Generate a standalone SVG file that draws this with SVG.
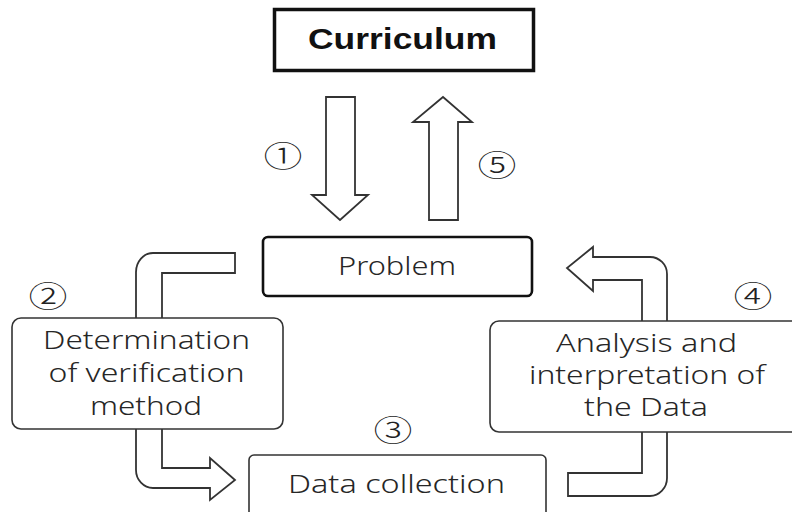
<svg xmlns="http://www.w3.org/2000/svg" width="792" height="512" viewBox="0 0 792 512">
  <style>
    .box { fill: #fff; stroke: #333; stroke-width: 1.6; }
    .arrow { fill: #fff; stroke: #333; stroke-width: 1.8; stroke-linejoin: miter; }
    .label { font-family: "Noto Sans", "Liberation Sans", sans-serif; font-size: 25px; font-weight: 350; fill: #262626; text-anchor: middle; }
    .title { font-family: "Liberation Sans", Arial, sans-serif; font-weight: bold; font-size: 29px; fill: #111; text-anchor: middle; }
    .step { font-family: "Noto Sans CJK JP", "Noto Sans", sans-serif; font-size: 30px; font-weight: 300; fill: #222; text-anchor: middle; }
  </style>
  <rect width="792" height="512" fill="#fff"/>

  <!-- connectors -->
  <g id="connectors">
    <!-- 1: curriculum to problem -->
    <polygon class="arrow" points="326,97 355,97 355,195 368,195 340,220 312,195 326,195"/>
    <!-- 5: problem back to curriculum -->
    <polygon class="arrow" points="443,97 472,122 458,122 458,220 429,220 429,122 413,122"/>
    <!-- 2: problem to verification method -->
    <path class="arrow" d="M136,318 V272 A17,19 0 0 1 153,253 H235 V273 H162 V318"/>
    <!-- verification method to data collection -->
    <path class="arrow" d="M136,429 V470 A17,18 0 0 0 153,488 H210 V500 L235,480 L210,458 V468 H162 V429"/>
    <!-- data collection to analysis -->
    <path class="arrow" d="M642,432 V473 H568 V496 H650 A17,18 0 0 0 667,478 V432"/>
    <!-- 4: analysis back to problem -->
    <path class="arrow" d="M642,321 V280 H593 V291 L567,268 L593,247 V257 H650 A17,17 0 0 1 667,274 V321"/>
  </g>

  <!-- step numbers -->
  <g id="steps">
    <text class="step" transform="translate(283,167) scale(1.3,1)">①</text>
    <text class="step" transform="translate(48,307) scale(1.3,1)">②</text>
    <text class="step" transform="translate(393,441) scale(1.3,1)">③</text>
    <text class="step" transform="translate(753,307) scale(1.3,1)">④</text>
    <text class="step" transform="translate(497,176) scale(1.3,1)">⑤</text>
  </g>

  <g id="curriculum">
    <rect x="274.5" y="9.5" width="259" height="61" fill="#fff" stroke="#111" stroke-width="3.5"/>
    <text class="title" x="402.5" y="49" textLength="189" lengthAdjust="spacingAndGlyphs">Curriculum</text>
  </g>

  <g id="problem">
    <rect x="263" y="237" width="269" height="59" rx="5" fill="#fff" stroke="#111" stroke-width="2.6"/>
    <text class="label" x="397" y="275" textLength="118" lengthAdjust="spacingAndGlyphs">Problem</text>
  </g>

  <g id="verification">
    <rect class="box" x="12" y="318" width="271" height="111" rx="9"/>
    <text class="label" x="146.5" y="349" textLength="207" lengthAdjust="spacingAndGlyphs">Determination</text>
    <text class="label" x="146.5" y="382" textLength="196" lengthAdjust="spacingAndGlyphs">of verification</text>
    <text class="label" x="146" y="415" textLength="112" lengthAdjust="spacingAndGlyphs">method</text>
  </g>

  <g id="collection">
    <rect class="box" x="249" y="455" width="297" height="80" rx="5"/>
    <text class="label" x="396.5" y="493" textLength="217" lengthAdjust="spacingAndGlyphs">Data collection</text>
  </g>

  <g id="analysis">
    <rect class="box" x="490" y="321" width="320" height="111" rx="9"/>
    <text class="label" x="646.5" y="352" textLength="181" lengthAdjust="spacingAndGlyphs">Analysis and</text>
    <text class="label" x="647" y="384" textLength="236" lengthAdjust="spacingAndGlyphs">interpretation of</text>
    <text class="label" x="646" y="416" textLength="124" lengthAdjust="spacingAndGlyphs">the Data</text>
  </g>
</svg>
